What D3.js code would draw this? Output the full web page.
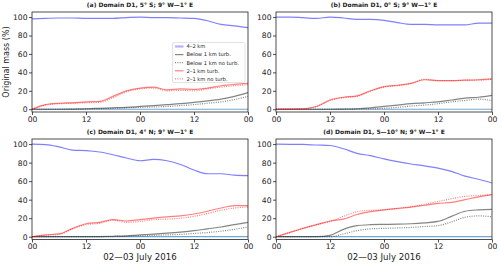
<!DOCTYPE html>
<html>
<head>
<meta charset="utf-8">
<script src="https://cdn.jsdelivr.net/npm/d3@7"></script>
<style>
  body { margin: 0; background: #fff; }
  text { font-family: "DejaVu Sans", sans-serif; fill: #222; }
</style>
</head>
<body>
<svg id="chart" width="500" height="267"></svg>
<script>
// hours since 00 UTC 2 July 2016
var hours = [0, 3, 6, 9, 12, 15, 18, 21, 24, 27, 30, 33, 36, 39, 42, 45, 48];
var xTicks = [0, 12, 24, 36, 48];
var xTickLabels = ["00", "12", "00", "12", "00"];
var yTicks = [0, 20, 40, 60, 80, 100];

var titles = [
  "(a) Domain D1, 5\u00b0 S; 9\u00b0 W\u20141\u00b0 E",
  "(b) Domain D1, 0\u00b0 S; 9\u00b0 W\u20141\u00b0 E",
  "(c) Domain D1, 4\u00b0 N; 9\u00b0 W\u20141\u00b0 E",
  "(d) Domain D1, 5\u201410\u00b0 N; 9\u00b0 W\u20141\u00b0 E"
];

var seriesNames = ["4\u20132 km", "Below 1 km turb.", "Below 1 km no turb.", "2\u20131 km turb.", "2\u20131 km no turb."];

// panel (a)
var aHigh      = [98, 98.5, 99, 99, 98.5, 98.5, 98.5, 99.5, 100, 99.5, 99.5, 99, 98.5, 96, 92, 90.5, 88.5];
var aLowTurb   = [0, 0, 0, 0.2, 0.5, 1, 1.5, 2, 3, 4, 5, 6, 7.5, 9, 11, 14, 18];
var aLowNoTurb = [0, 0, 0, 0, 0.2, 0.5, 1, 1.5, 2, 2.5, 3, 4, 5, 6.5, 8, 10.5, 14];
var aMidTurb   = [0, 5, 6.5, 7, 8, 8.5, 14, 20, 23, 24, 21, 22, 21.5, 23, 25.5, 27, 28];
var aMidNoTurb = [0, 4.5, 6, 6.5, 7, 7.5, 12.5, 19, 22, 23, 20, 20.5, 20, 22, 24, 25.5, 26.5];

// panel (b)
var bHigh      = [100, 100, 99.3, 98.5, 100, 99, 97.5, 97.5, 96.5, 94, 92, 92, 91.5, 91.5, 91.5, 93.5, 93.5];
var bLowTurb   = [0, 0, 0, 0, 0, 0.2, 0.5, 1.5, 3, 4.5, 6, 7, 8, 10, 12, 13, 15];
var bLowNoTurb = [0, 0, 0, 0, 0, 0, 0.2, 0.5, 1, 2, 3.5, 4.5, 6, 8, 9.5, 11, 9.5];
var bMidTurb   = [0, 0.2, 0.5, 3, 10, 13, 14.5, 20, 24.5, 26, 28, 32, 31, 31, 31.5, 32, 33];
var bMidNoTurb = [0, 0.2, 0.5, 3, 9.5, 12.5, 14, 19.5, 24, 25.5, 28, 32.5, 31, 31, 31.5, 31.5, 32.5];

// panel (c)
var cHigh      = [100, 99.5, 97, 93.5, 93, 91.5, 88.5, 85, 82, 83.5, 82, 78, 72, 68, 68, 66.5, 66];
var cLowTurb   = [0, 0, 0, 0, 0, 0.2, 0.5, 1, 2, 2.8, 3.8, 5, 6.5, 8.5, 10.5, 13, 15.5];
var cLowNoTurb = [0, 0, 0, 0, 0, 0, 0.2, 0.5, 1, 1.5, 2, 2.5, 3.5, 4.5, 6, 8, 10.5];
var cMidTurb   = [0, 2, 3, 9, 14, 15.5, 18.5, 17, 18.5, 20, 21.5, 22.5, 24.5, 27.5, 31, 33.5, 33.5];
var cMidNoTurb = [0, 1.5, 2.5, 8.5, 13, 14.5, 18, 15.5, 16.5, 18.5, 19, 20, 22, 25, 28.5, 31, 32];

// panel (d)
var dHigh      = [100, 99.8, 99.6, 99, 98.5, 95, 90, 87.5, 84, 81, 78.5, 76.5, 74, 70.5, 65.5, 62, 58];
var dLowTurb   = [0, 0, 0, 0, 1.5, 8, 12, 13, 13.3, 13.5, 14, 15, 16.5, 22, 27.5, 29, 29.5];
var dLowNoTurb = [0, 0, 0, 0, 0, 3, 6.5, 8.5, 9, 9.5, 10, 11, 12, 16, 21, 22.5, 21.5];
var dMidTurb   = [0, 4.5, 9, 13, 17, 19, 24, 27, 29, 30.5, 32, 34, 36, 37, 40, 43, 45.5];
var dMidNoTurb = [0, 4.5, 9, 13, 16.5, 22, 27, 28.5, 29, 30.5, 32.5, 35, 38, 41, 43.5, 44.5, 45.5];

var panelData = [
  [aHigh, aLowTurb, aLowNoTurb, aMidTurb, aMidNoTurb],
  [bHigh, bLowTurb, bLowNoTurb, bMidTurb, bMidNoTurb],
  [cHigh, cLowTurb, cLowNoTurb, cMidTurb, cMidNoTurb],
  [dHigh, dLowTurb, dLowNoTurb, dMidTurb, dMidNoTurb]
];

/* line styles, same order as seriesNames */
var styles = [
  {stroke: "#0000ff", opacity: 0.5, dash: null},
  {stroke: "#333333", opacity: 0.6, dash: null},
  {stroke: "#333333", opacity: 0.6, dash: "1,1.3"},
  {stroke: "#ff0000", opacity: 0.5, dash: null},
  {stroke: "#ff0000", opacity: 0.5, dash: "1,1.3"}
];

var svg = d3.select("#chart");

// panel boxes: left, right, top, bottom
var boxes = [
  {l: 32, r: 248, t: 12, b: 112},
  {l: 276, r: 492, t: 12, b: 112},
  {l: 32, r: 248, t: 139, b: 239.5},
  {l: 276, r: 492, t: 139, b: 239.5}
];

boxes.forEach(function(box, i){
    var g = svg.append("g");
    var x = d3.scaleLinear().domain([0, 48]).range([box.l, box.r]);
    var y = d3.scaleLinear().domain([-3, 105.5]).range([box.b, box.t]);

    // zero line
    g.append("line")
      .attr("x1", x(0)).attr("x2", x(48))
      .attr("y1", y(0)).attr("y2", y(0))
      .style("stroke", "#6fa8d6").style("stroke-width", 1.2);

    var line = d3.line()
      .x(function(d, k){ return x(hours[k]); })
      .y(function(d){ return y(d); })
      .curve(d3.curveMonotoneX);

    // draw back to front: black, red, blue
    [1, 2, 4, 3, 0].forEach(function(s){
        var st = styles[s];
        g.append("path")
          .attr("d", line(panelData[i][s]))
          .style("fill", "none")
          .style("stroke", st.stroke)
          .style("stroke-opacity", st.opacity)
          .style("stroke-width", 1.2)
          .style("stroke-dasharray", st.dash);
    });

    var xAxis = d3.axisBottom(x).tickValues(xTicks)
      .tickFormat(function(d, k){ return xTickLabels[k]; })
      .tickSize(3).tickPadding(1.5);
    var yAxis = d3.axisLeft(y).tickValues(yTicks).tickSize(3).tickPadding(1.5);

    var gx = g.append("g").attr("transform", "translate(0," + box.b + ")").call(xAxis);
    var gy = g.append("g").attr("transform", "translate(" + box.l + ",0)").call(yAxis);
    [gx, gy].forEach(function(ax){
        ax.select(".domain").remove();
        ax.selectAll("line").style("stroke", "#222").style("stroke-width", 0.8);
        ax.selectAll("text").style("font-size", "7.6px").style("font-family", "DejaVu Sans").style("fill", "#222");
    });

    // frame
    g.append("rect")
      .attr("x", box.l).attr("y", box.t)
      .attr("width", box.r - box.l).attr("height", box.b - box.t)
      .style("fill", "none").style("stroke", "#222").style("stroke-width", 0.8);

    g.append("text")
      .attr("x", (box.l + box.r) / 2).attr("y", box.t - 5)
      .attr("text-anchor", "middle")
      .style("font-size", "6px").style("font-weight", "bold")
      .text(titles[i]);

    if (i >= 2){
        g.append("text")
          .attr("x", (box.l + box.r) / 2).attr("y", 260)
          .attr("text-anchor", "middle")
          .style("font-size", "8.6px")
          .text("02\u201403 July 2016");
    }
});

// y label on panel (a)
svg.append("text")
  .attr("transform", "translate(9,62) rotate(-90)")
  .attr("text-anchor", "middle")
  .style("font-size", "8px")
  .text("Original mass (%)");

// legend in panel (a)
var leg = svg.append("g").attr("transform", "translate(172.5,42.5)");
leg.append("rect")
  .attr("width", 72.5).attr("height", 40).attr("rx", 1.5)
  .style("fill", "#fff").style("fill-opacity", 0.85)
  .style("stroke", "#d0d0d0").style("stroke-width", 0.6);

seriesNames.forEach(function(name, s){
    var st = styles[s];
    var yy = 4 + s * 8.1;
    leg.append("line")
      .attr("x1", 2.5).attr("x2", 11).attr("y1", yy).attr("y2", yy)
      .style("stroke", st.stroke)
      .style("stroke-opacity", s === 0 ? 0.3 : st.opacity)
      .style("stroke-width", s === 0 ? 2.2 : 1.2)
      .style("stroke-dasharray", st.dash);
    leg.append("text")
      .attr("x", 14).attr("y", yy + 1.8)
      .style("font-size", "5.2px")
      .text(name);
});
</script>
</body>
</html>
